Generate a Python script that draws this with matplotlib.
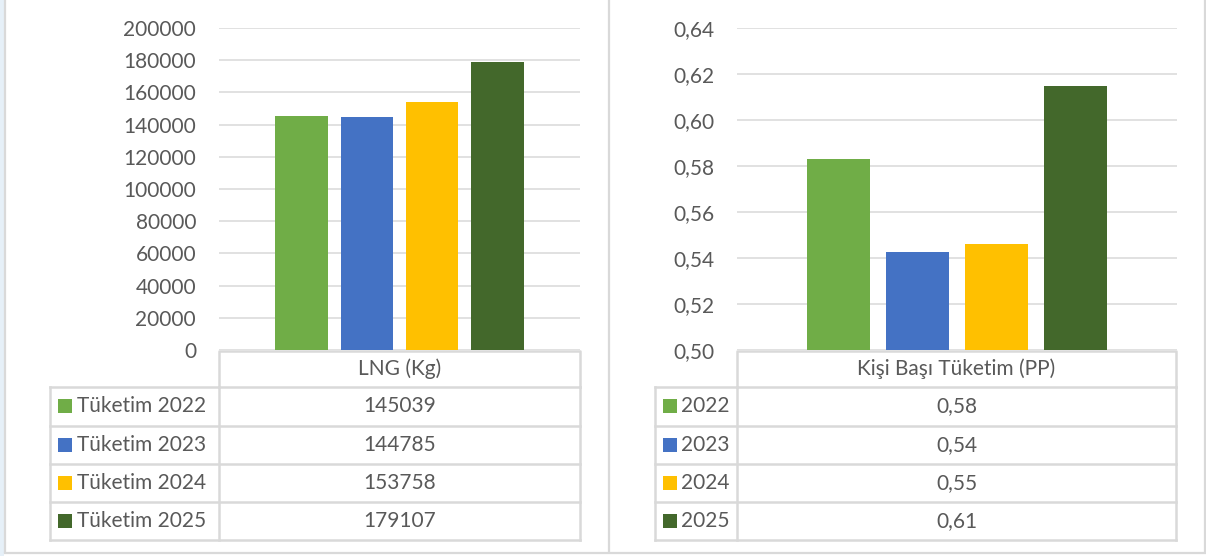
import numpy as np
import matplotlib.pyplot as plt
from matplotlib.ticker import FuncFormatter, MultipleLocator

# data
years = ['2022', '2023', '2024', '2025']
lng_kg = [145039, 144785, 153758, 179107]
per_capita = [0.5830, 0.5426, 0.5462, 0.6148]
colors = ['#70AD47', '#4472C4', '#FFC000', '#43682B']

left_header = 'LNG (Kg)'
right_header = 'Kişi Başı Tüketim (PP)'
left_labels = ['Tüketim ' + y for y in years]
right_labels = years

W, H = 1206, 556
TXT = '#595959'
GRID = '#D9D9D9'
FS = 15

plt.rcParams['font.family'] = ['Lato', 'DejaVu Sans']

fig = plt.figure(figsize=(W / 100, H / 100), dpi=100)


def px_axes(x0, y0, x1, y1, **kw):
    return fig.add_axes([x0 / W, 1 - y1 / H, (x1 - x0) / W, (y1 - y0) / H], **kw)


# overlay for frame and tables, in pixel units
ov = px_axes(0, 0, W, H, zorder=0)
ov.set_xlim(0, W)
ov.set_ylim(H, 0)
ov.axis('off')

# panel frame
ov.add_patch(plt.Rectangle((0, 0), 4, H, color='#E6F0F8', lw=0))
for x in (4.5, 609, 1205):
    ov.plot([x, x], [0, 553], color=GRID, lw=1.6, solid_capstyle='butt')
ov.plot([4.5, 1205], [553, 553], color=GRID, lw=1.6)


def bar_panel(x0, x1, values, ylim, step, fmt):
    ax = px_axes(x0, 28, x1, 350, zorder=2)
    pos = np.arange(len(values))
    ax.bar(pos, values, width=0.8, color=colors, zorder=3)
    span = (x1 - x0) / 2
    spacing = 65.3 if x1 - x0 < 400 else 79.0
    ax.set_xlim(1.5 - span / spacing, 1.5 + span / spacing)
    ax.set_ylim(*ylim)
    ax.yaxis.set_major_locator(MultipleLocator(step))
    ax.yaxis.set_major_formatter(FuncFormatter(fmt))
    ax.grid(axis='y', color=GRID, lw=1.1)
    ax.set_axisbelow(True)
    ax.set_xticks([])
    for s in ax.spines.values():
        s.set_visible(False)
    # pad is in points: ~23 px gap between labels and plot area
    ax.tick_params(axis='y', length=0, pad=16.5, labelsize=FS, labelcolor=TXT)
    ax.patch.set_alpha(0)
    return ax


def table(x_lab, x_div, x_right, header, labels, texts, sq_x, txt_x):
    y_head, y_rows = 350.5, [387, 425.5, 464, 502, 540]
    lw = 1.8
    # header cell
    ov.plot([x_div, x_div, x_right, x_right], [y_rows[0], y_head, y_head, y_rows[0]],
            color=GRID, lw=lw)
    ov.text((x_div + x_right) / 2, (y_head + y_rows[0]) / 2, header,
            ha='center', va='center', fontsize=FS, color=TXT)
    for yy in y_rows:
        ov.plot([x_lab, x_right], [yy, yy], color=GRID, lw=lw)
    for xx in (x_lab, x_div, x_right):
        ov.plot([xx, xx], [y_rows[0], y_rows[-1]], color=GRID, lw=lw)
    for i, (lab, t) in enumerate(zip(labels, texts)):
        yc = (y_rows[i] + y_rows[i + 1]) / 2
        ov.add_patch(plt.Rectangle((sq_x, yc - 7), 14, 14, color=colors[i], lw=0))
        ov.text(txt_x, yc, lab, ha='left', va='center', fontsize=FS, color=TXT)
        ov.text((x_div + x_right) / 2, yc, t, ha='center', va='center',
                fontsize=FS, color=TXT)


bar_panel(219, 580, lng_kg, (0, 200000), 20000, lambda v, p: f'{v:.0f}')
bar_panel(737, 1177, per_capita, (0.50, 0.64), 0.02,
          lambda v, p: f'{v:.2f}'.replace('.', ','))

table(50, 219, 580, left_header, left_labels, [str(v) for v in lng_kg], 58, 77)
table(655, 737, 1176, right_header, right_labels,
      [f'{v:.2f}'.replace('.', ',') for v in per_capita], 663, 681)

fig.savefig('out.png', dpi=100, facecolor='white')
